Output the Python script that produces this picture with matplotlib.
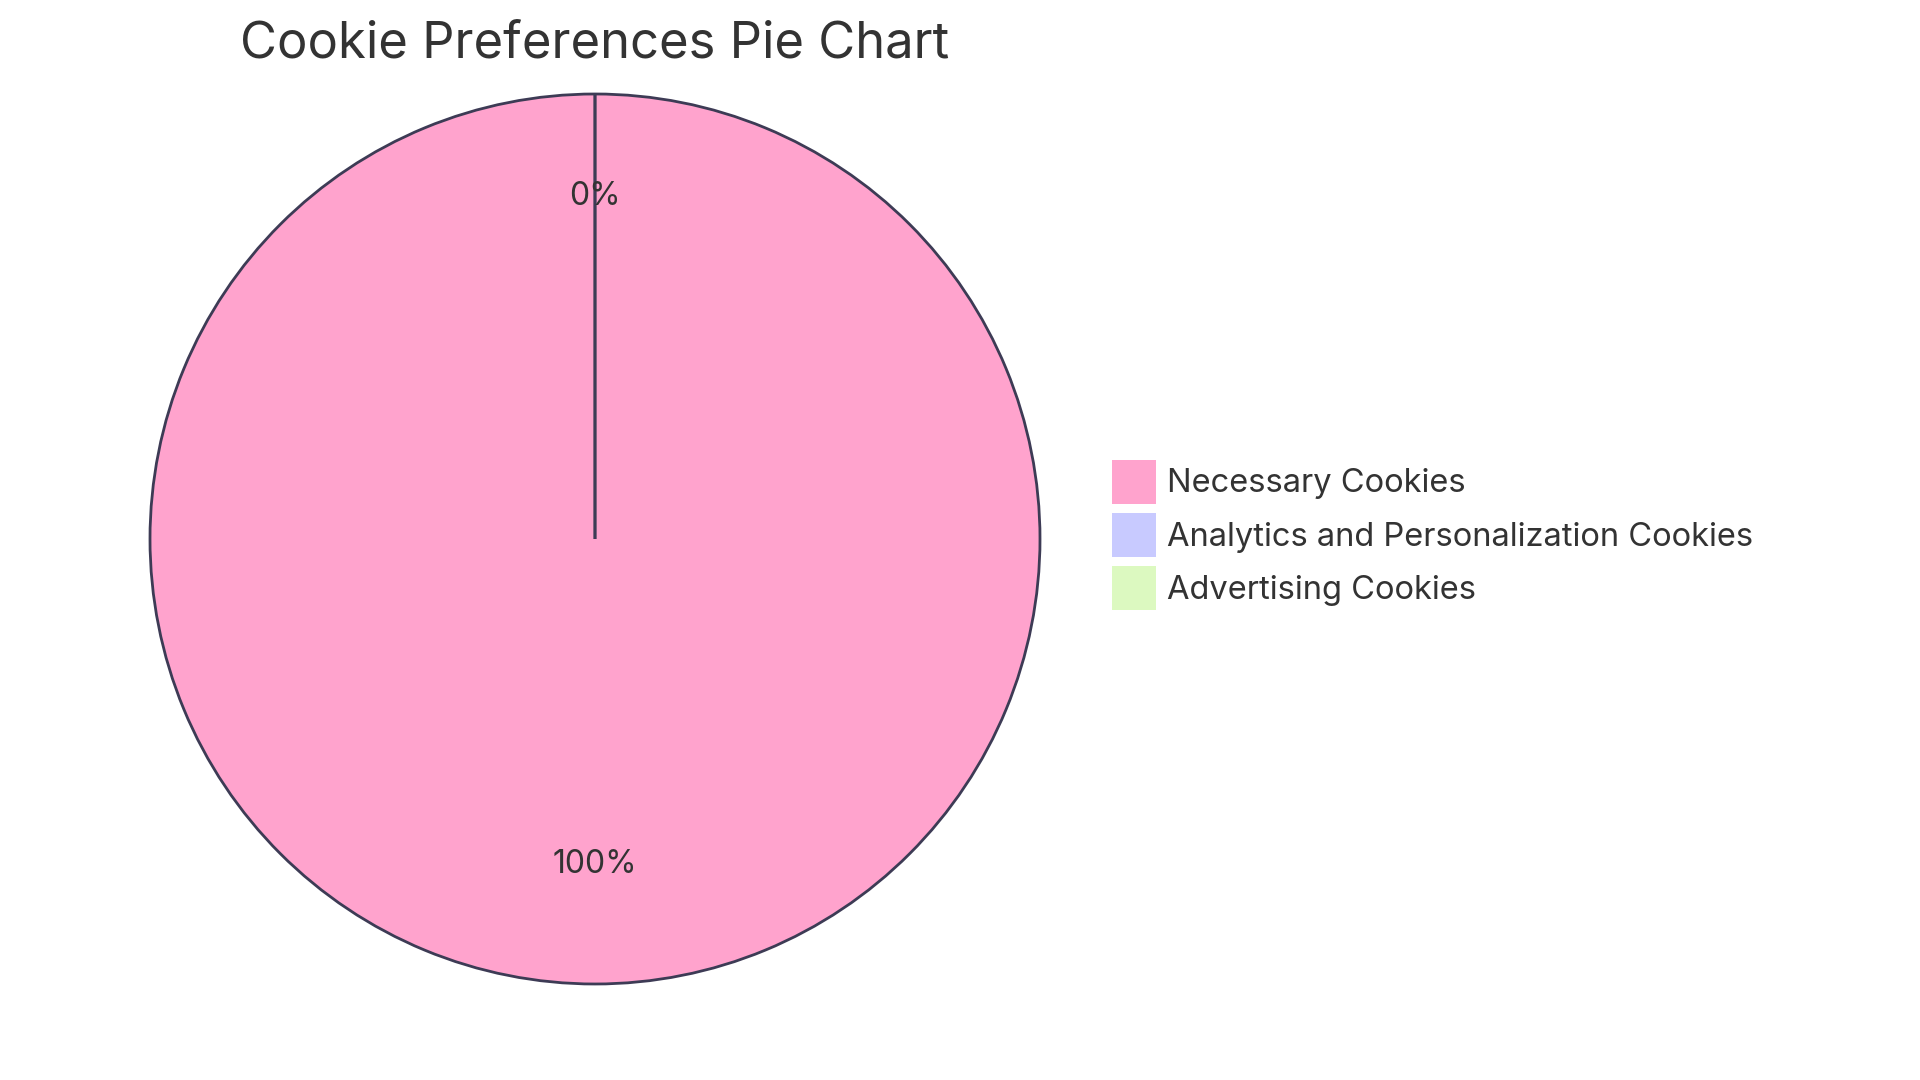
import matplotlib
matplotlib.use("Agg")
import matplotlib.pyplot as plt
from matplotlib.patches import Patch

plt.rcParams['font.family'] = ['Inter', 'DejaVu Sans']

# data
labels = ["Necessary Cookies", "Analytics and Personalization Cookies", "Advertising Cookies"]
values = [100, 0, 0]
colors = ["#FFA3CD", "#C8CAFF", "#DCF9C0"]
title = "Cookie Preferences Pie Chart"

W, H = 1920, 1080
fig = plt.figure(figsize=(W / 100, H / 100), dpi=100)

# pie circle: center (595, 539) px, radius 445 px
cx, cy, r = 595, 539, 445
ax = fig.add_axes([(cx - r) / W, (H - cy - r) / H, 2 * r / W, 2 * r / H])

wedges, texts, autotexts = ax.pie(
    values,
    colors=colors,
    startangle=90,
    counterclock=False,
    autopct=lambda p: "%d%%" % round(p),
    pctdistance=0.75,
    wedgeprops=dict(edgecolor="#3D3B55", linewidth=2.0),
    textprops=dict(fontsize=23, color="#333333"),
)
for t in autotexts:
    t.set_va("baseline")
# only one 0% label visible in reference (both overlap)
autotexts[2].set_visible(False)
ax.set_xlim(-1, 1)
ax.set_ylim(-1, 1)
ax.set_aspect("equal")

fig.text(cx / W, 1 - 44 / H, title, ha="center", va="center",
         fontsize=36.5, color="#333333")

fs = 23.5
fpx = fs * 100 / 72
handles = [Patch(facecolor=c, edgecolor="none") for c in colors]
fig.legend(handles, labels, loc="center left",
           bbox_to_anchor=(1112 / W, 1 - 535 / H),
           frameon=False, fontsize=fs, labelcolor="#333333",
           handlelength=44 / fpx, handleheight=1.70,
           labelspacing=0.285, handletextpad=11 / fpx,
           borderpad=0, borderaxespad=0)

fig.savefig("out.png", dpi=100, facecolor="white")
